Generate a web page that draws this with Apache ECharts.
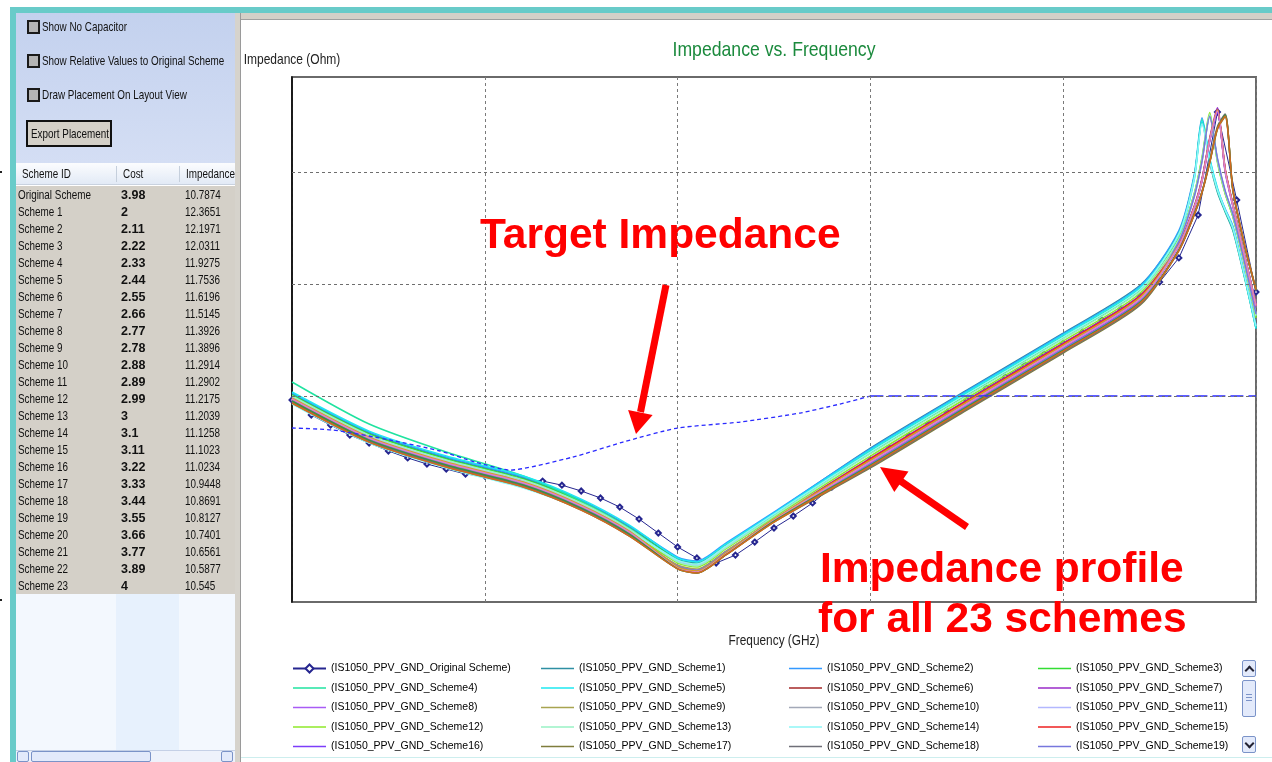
<!DOCTYPE html>
<html>
<head>
<meta charset="utf-8">
<title>Impedance vs. Frequency</title>
<script src="https://cdn.jsdelivr.net/npm/echarts@6.0.0/dist/echarts.min.js"></script>
<style>
  html, body { margin: 0; padding: 0; }
  body { width: 1272px; height: 762px; overflow: hidden; background: #fff; position: relative; }
  #chart { position: absolute; left: 0; top: 0; width: 1272px; height: 762px; z-index: 1; }
  .abs { position: absolute; z-index: 2; }
  .txt { position: absolute; z-index: 3; white-space: nowrap; font-family: "Liberation Sans", Arial, sans-serif; font-size: 13px; color: #111;
         transform: scaleX(0.76); transform-origin: 0 50%; }
  .bold { font-weight: bold; transform: none; font-size: 12.5px; margin-top: 1px; }
  .chk { position: absolute; z-index: 3; width: 9px; height: 10px; border: 2px solid #1a1a1a; background: #b4b4b4; }
  .btn { position: absolute; z-index: 3; border: 1px solid #7b93c8; background: #e3eafb; border-radius: 2px; box-sizing: border-box; }
</style>
</head>
<body>
<div id="chart"></div>

<!-- window frame -->
<div class="abs" style="left:10px;top:7px;width:1262px;height:6px;background:#68cbc9"></div>
<div class="abs" style="left:10px;top:7px;width:6px;height:755px;background:#68cbc9"></div>
<div class="abs" style="left:0px;top:171px;width:2px;height:2px;background:#222"></div>
<div class="abs" style="left:0px;top:599px;width:2px;height:2px;background:#222"></div>

<!-- left panel -->
<div class="abs" style="left:16px;top:13px;width:219px;height:150px;background:linear-gradient(#c3d1ee,#d4def4)"></div>
<div class="chk" style="left:27px;top:20px"></div>
<div class="txt" style="left:42px;top:20px;line-height:14px">Show No Capacitor</div>
<div class="chk" style="left:27px;top:54px"></div>
<div class="txt" style="left:42px;top:54px;line-height:14px">Show Relative Values to Original Scheme</div>
<div class="chk" style="left:27px;top:88px"></div>
<div class="txt" style="left:42px;top:88px;line-height:14px">Draw Placement On Layout View</div>
<div class="abs" style="left:26px;top:120px;width:82px;height:23px;border:2px solid #111;background:#d4d0c8"></div>
<div class="txt" style="left:31px;top:122px;line-height:23px">Export Placement</div>

<div class="abs" style="left:16px;top:163px;width:219px;height:22px;background:linear-gradient(#fbfcfe,#e2eaf6);border-bottom:1px solid #c9d2df;box-sizing:border-box"></div>
<div class="abs" style="left:116px;top:166px;width:1px;height:16px;background:#c5cfdc"></div>
<div class="abs" style="left:179px;top:166px;width:1px;height:16px;background:#c5cfdc"></div>
<div class="txt" style="left:22px;top:167px;line-height:14px">Scheme ID</div>
<div class="txt" style="left:123px;top:167px;line-height:14px">Cost</div>
<div class="txt" style="left:186px;top:167px;line-height:14px">Impedance</div>

<div class="abs" style="left:16px;top:186px;width:219px;height:408px;background:#d4d0c8"></div>
<div id="rows"></div>
<div class="abs" style="left:16px;top:594px;width:219px;height:156px;background:#f3f8fe"></div>
<div class="abs" style="left:116px;top:594px;width:63px;height:156px;background:#e7f1fd"></div>
<div class="abs" style="left:16px;top:750px;width:219px;height:12px;background:#eef2fb;border-top:1px solid #c5d0e6;box-sizing:border-box"></div>
<div class="btn" style="left:17px;top:751px;width:12px;height:11px"></div>
<div class="btn" style="left:31px;top:751px;width:120px;height:11px"></div>
<div class="btn" style="left:221px;top:751px;width:12px;height:11px"></div>

<!-- divider and right panel frame -->
<div class="abs" style="left:235px;top:13px;width:5px;height:749px;background:#d6d3cc;z-index:5"></div>
<div class="abs" style="left:240px;top:13px;width:1px;height:749px;background:#9a9a9a;z-index:5"></div>
<div class="abs" style="left:241px;top:13px;width:1031px;height:6px;background:#d4d0c8"></div>
<div class="abs" style="left:241px;top:19px;width:1031px;height:1px;background:#a0a0a0"></div>
<div class="abs" style="left:241px;top:757px;width:1031px;height:1px;background:#cdeeee"></div>

<!-- legend scroll widget -->
<div class="btn" style="left:1242px;top:660px;width:14px;height:17px"></div>
<div class="abs" style="left:1246px;top:667px;width:5px;height:5px;border-left:2px solid #223;border-top:2px solid #223;transform:rotate(45deg);z-index:4"></div>
<div class="btn" style="left:1242px;top:680px;width:14px;height:37px"></div>
<div class="abs" style="left:1246px;top:694px;width:6px;height:1px;background:#7b93c8;z-index:4"></div>
<div class="abs" style="left:1246px;top:697px;width:6px;height:1px;background:#7b93c8;z-index:4"></div>
<div class="abs" style="left:1246px;top:700px;width:6px;height:1px;background:#7b93c8;z-index:4"></div>
<div class="btn" style="left:1242px;top:736px;width:14px;height:17px"></div>
<div class="abs" style="left:1246px;top:740px;width:5px;height:5px;border-right:2px solid #223;border-bottom:2px solid #223;transform:rotate(45deg);z-index:4"></div>

<script>
// table on the left
const schemeIds = ['Original Scheme', 'Scheme 1', 'Scheme 2', 'Scheme 3', 'Scheme 4', 'Scheme 5', 'Scheme 6', 'Scheme 7',
  'Scheme 8', 'Scheme 9', 'Scheme 10', 'Scheme 11', 'Scheme 12', 'Scheme 13', 'Scheme 14', 'Scheme 15', 'Scheme 16',
  'Scheme 17', 'Scheme 18', 'Scheme 19', 'Scheme 20', 'Scheme 21', 'Scheme 22', 'Scheme 23'];
const schemeCost = [3.98, 2, 2.11, 2.22, 2.33, 2.44, 2.55, 2.66, 2.77, 2.78, 2.88, 2.89, 2.99, 3, 3.1, 3.11, 3.22, 3.33, 3.44, 3.55, 3.66, 3.77, 3.89, 4];
const schemeImpedance = [10.7874, 12.3651, 12.1971, 12.0311, 11.9275, 11.7536, 11.6196, 11.5145, 11.3926, 11.3896, 11.2914,
  11.2902, 11.2175, 11.2039, 11.1258, 11.1023, 11.0234, 10.9448, 10.8691, 10.8127, 10.7401, 10.6561, 10.5877, 10.545];

// frequency sample points (GHz) shared by schemes 1..23
const freqGHz = [1e-5, 2.512e-5, 6.310e-5, 1.585e-4, 3.162e-4, 5.623e-4, 1.000e-3, 1.259e-3, 1.778e-3, 3.162e-3, 0.01,
  0.03162, 0.1, 0.2512, 0.3981, 0.4786, 0.5248, 0.5754, 0.6310, 0.6918, 0.7586, 0.8710, 1];

// impedance (Ohm) per scheme
const zScheme1 = [1.043e-2, 4.67e-3, 2.80e-3, 1.854e-3, 1.154e-3, 6.77e-4, 3.51e-4, 3.23e-4, 4.67e-4, 9.02e-4, 3.43e-3, 1.131e-2, 3.65e-2, 9.79e-2, 0.290, 0.92, 2.80, 1.22, 0.66, 0.44, 0.30, 0.115, 0.040];
const zScheme2 = [1.064e-2, 4.76e-3, 2.85e-3, 1.891e-3, 1.178e-3, 6.90e-4, 3.65e-4, 3.36e-4, 4.87e-4, 9.21e-4, 3.37e-3, 1.109e-2, 3.58e-2, 9.60e-2, 0.300, 0.95, 3.05, 1.30, 0.70, 0.47, 0.33, 0.125, 0.043];
const zScheme3 = [1.021e-2, 4.58e-3, 2.74e-3, 1.816e-3, 1.131e-3, 6.63e-4, 3.43e-4, 3.16e-4, 4.58e-4, 8.84e-4, 3.10e-3, 1.020e-2, 3.29e-2, 8.84e-2, 0.255, 0.64, 1.32, 3.20, 1.25, 0.65, 0.40, 0.152, 0.051];
const zScheme4 = [1.334e-2, 5.62e-3, 3.16e-3, 1.931e-3, 1.154e-3, 6.63e-4, 3.37e-4, 3.10e-4, 4.49e-4, 8.66e-4, 3.23e-3, 1.064e-2, 3.43e-2, 9.21e-2, 0.285, 0.90, 2.95, 1.26, 0.68, 0.45, 0.31, 0.118, 0.041];
const zScheme5 = [1.086e-2, 4.86e-3, 2.91e-3, 1.931e-3, 1.202e-3, 7.05e-4, 3.58e-4, 3.30e-4, 4.77e-4, 9.02e-4, 3.30e-3, 1.086e-2, 3.51e-2, 9.40e-2, 0.275, 0.86, 2.85, 1.32, 0.72, 0.46, 0.32, 0.118, 0.040];
const zScheme6 = [9.40e-3, 4.21e-3, 2.52e-3, 1.672e-3, 1.041e-3, 6.10e-4, 2.98e-4, 2.74e-4, 3.97e-4, 7.97e-4, 2.68e-3, 8.84e-3, 2.85e-2, 7.65e-2, 0.223, 0.487, 0.85, 1.93, 3.45, 1.04, 0.51, 0.182, 0.065];
const zScheme7 = [9.21e-3, 4.13e-3, 2.47e-3, 1.638e-3, 1.020e-3, 5.98e-4, 2.98e-4, 2.74e-4, 3.97e-4, 7.97e-4, 2.795e-3, 9.21e-3, 2.973e-2, 7.975e-2, 0.228, 0.50, 0.88, 2.02, 3.75, 1.08, 0.52, 0.185, 0.066];
const zScheme8 = [9.60e-3, 4.30e-3, 2.575e-3, 1.707e-3, 1.063e-3, 6.23e-4, 3.04e-4, 2.79e-4, 4.05e-4, 7.97e-4, 2.63e-3, 8.66e-3, 2.80e-2, 7.50e-2, 0.218, 0.47, 0.82, 1.88, 3.50, 1.00, 0.49, 0.178, 0.063];
const zScheme9 = [8.84e-3, 3.96e-3, 2.37e-3, 1.572e-3, 9.79e-4, 5.74e-4, 3.10e-4, 2.853e-4, 4.13e-4, 7.81e-4, 2.37e-3, 7.81e-3, 2.52e-2, 6.77e-2, 0.201, 0.422, 0.663, 1.23, 2.47, 3.23, 0.691, 0.223, 0.0884];
const zScheme10 = [9.03e-3, 4.04e-3, 2.42e-3, 1.605e-3, 9.99e-4, 5.86e-4, 3.30e-4, 3.04e-4, 4.40e-4, 8.14e-4, 2.47e-3, 8.14e-3, 2.63e-2, 7.05e-2, 0.240, 0.60, 1.24, 3.10, 1.30, 0.67, 0.42, 0.160, 0.054];
const zScheme11 = [9.80e-3, 4.39e-3, 2.63e-3, 1.743e-3, 1.085e-3, 6.36e-4, 3.37e-4, 3.10e-4, 4.49e-4, 8.31e-4, 2.57e-3, 8.48e-3, 2.74e-2, 7.35e-2, 0.247, 0.62, 1.28, 3.30, 1.28, 0.663, 0.413, 0.157, 0.053];
const zScheme12 = [9.40e-3, 4.21e-3, 2.52e-3, 1.672e-3, 1.041e-3, 6.10e-4, 3.23e-4, 2.97e-4, 4.31e-4, 8.31e-4, 2.91e-3, 9.60e-3, 3.10e-2, 8.31e-2, 0.252, 0.64, 1.35, 3.40, 1.22, 0.64, 0.40, 0.150, 0.050];
const zScheme13 = [1.000e-2, 4.48e-3, 2.68e-3, 1.779e-3, 1.108e-3, 6.49e-4, 3.30e-4, 3.04e-4, 4.40e-4, 8.48e-4, 3.04e-3, 1.000e-2, 3.23e-2, 8.66e-2, 0.250, 0.63, 1.30, 3.25, 1.26, 0.66, 0.41, 0.155, 0.052];
const zScheme14 = [8.49e-3, 3.80e-3, 2.28e-3, 1.509e-3, 9.79e-4, 6.23e-4, 3.43e-4, 3.16e-4, 4.58e-4, 8.84e-4, 3.16e-3, 1.042e-2, 3.36e-2, 9.02e-2, 0.280, 0.88, 2.70, 1.25, 0.69, 0.458, 0.316, 0.120, 0.042];
const zScheme15 = [9.21e-3, 4.13e-3, 2.47e-3, 1.638e-3, 1.020e-3, 5.98e-4, 2.91e-4, 2.68e-4, 3.88e-4, 7.81e-4, 2.74e-3, 9.02e-3, 2.91e-2, 7.81e-2, 0.225, 0.49, 0.86, 1.96, 3.55, 1.06, 0.51, 0.180, 0.064];
const zScheme16 = [9.03e-3, 4.04e-3, 2.42e-3, 1.605e-3, 9.99e-4, 5.86e-4, 2.91e-4, 2.68e-4, 3.88e-4, 7.81e-4, 2.52e-3, 8.31e-3, 2.68e-2, 7.20e-2, 0.220, 0.48, 0.84, 1.90, 3.40, 1.02, 0.50, 0.184, 0.066];
const zScheme17 = [8.66e-3, 3.88e-3, 2.32e-3, 1.540e-3, 9.59e-4, 5.62e-4, 2.86e-4, 2.63e-4, 3.81e-4, 7.50e-4, 2.28e-3, 7.50e-3, 2.42e-2, 6.49e-2, 0.198, 0.415, 0.65, 1.20, 2.40, 3.10, 0.70, 0.228, 0.090];
const zScheme18 = [8.84e-3, 3.96e-3, 2.37e-3, 1.572e-3, 9.79e-4, 5.74e-4, 2.98e-4, 2.74e-4, 3.97e-4, 7.65e-4, 2.32e-3, 7.65e-3, 2.47e-2, 6.63e-2, 0.203, 0.43, 0.67, 1.25, 2.55, 3.30, 0.68, 0.220, 0.087];
const zScheme19 = [9.21e-3, 4.13e-3, 2.47e-3, 1.638e-3, 1.020e-3, 5.98e-4, 3.04e-4, 2.79e-4, 4.05e-4, 7.81e-4, 2.47e-3, 8.14e-3, 2.63e-2, 7.05e-2, 0.240, 0.61, 1.25, 3.15, 1.32, 0.68, 0.42, 0.158, 0.054];
const zScheme20 = [9.60e-3, 4.30e-3, 2.575e-3, 1.707e-3, 1.063e-3, 6.23e-4, 2.98e-4, 2.74e-4, 3.97e-4, 7.97e-4, 2.68e-3, 8.84e-3, 2.85e-2, 7.65e-2, 0.222, 0.485, 0.85, 1.95, 3.60, 1.05, 0.51, 0.182, 0.065];
const zScheme21 = [9.40e-3, 4.21e-3, 2.52e-3, 1.672e-3, 1.041e-3, 6.10e-4, 2.91e-4, 2.68e-4, 3.88e-4, 7.81e-4, 2.57e-3, 8.48e-3, 2.74e-2, 7.35e-2, 0.220, 0.48, 0.84, 1.92, 3.50, 1.03, 0.50, 0.180, 0.064];
const zScheme22 = [9.03e-3, 4.04e-3, 2.42e-3, 1.605e-3, 9.99e-4, 5.86e-4, 2.86e-4, 2.63e-4, 3.81e-4, 7.65e-4, 2.42e-3, 7.98e-3, 2.57e-2, 6.91e-2, 0.201, 0.422, 0.663, 1.23, 2.47, 3.23, 0.691, 0.223, 0.0884];
const zScheme23 = [8.66e-3, 3.88e-3, 2.32e-3, 1.540e-3, 9.59e-4, 5.62e-4, 2.86e-4, 2.63e-4, 3.81e-4, 7.50e-4, 2.37e-3, 7.81e-3, 2.52e-2, 6.77e-2, 0.199, 0.418, 0.66, 1.22, 2.45, 3.15, 0.70, 0.226, 0.089];

// original scheme, sampled every 0.1 decade
const origFreqGHz = [1e-5, 1.259e-5, 1.585e-5, 1.995e-5, 2.512e-5, 3.162e-5, 3.981e-5, 5.012e-5, 6.310e-5, 7.943e-5,
  1e-4, 1.259e-4, 1.585e-4, 1.995e-4, 2.512e-4, 3.162e-4, 3.981e-4, 5.012e-4, 6.310e-4, 7.943e-4,
  1e-3, 1.259e-3, 1.585e-3, 1.995e-3, 2.512e-3, 3.162e-3, 3.981e-3, 5.012e-3, 6.310e-3, 7.943e-3,
  1e-2, 1.259e-2, 1.585e-2, 1.995e-2, 2.512e-2, 3.162e-2, 3.981e-2, 5.012e-2, 6.310e-2, 7.943e-2,
  0.1, 0.1259, 0.1585, 0.1995, 0.2512, 0.3162, 0.3981, 0.5012, 0.6310, 0.7943, 1];
const zOriginal = [9.21e-3, 6.77e-3, 5.50e-3, 4.48e-3, 3.81e-3, 3.23e-3, 2.80e-3, 2.47e-3, 2.23e-3, 2.01e-3,
  1.93e-3, 1.89e-3, 1.78e-3, 1.74e-3, 1.60e-3, 1.42e-3, 1.23e-3, 1.02e-3, 7.97e-4, 5.98e-4,
  4.49e-4, 3.58e-4, 3.23e-4, 3.80e-4, 4.97e-4, 6.63e-4, 8.48e-4, 1.11e-3, 1.54e-3, 2.01e-3,
  2.68e-3, 3.43e-3, 4.39e-3, 5.62e-3, 7.19e-3, 9.21e-3, 1.176e-2, 1.482e-2, 1.889e-2, 2.375e-2,
  2.97e-2, 3.73e-2, 4.77e-2, 5.98e-2, 7.81e-2, 0.104, 0.171, 0.413, 3.43, 0.562, 0.0848];

// target impedance
const targetFreqGHz = [1e-5, 1.63e-5, 3.22e-5, 5.86e-5, 8.9e-5, 1.35e-4, 2.86e-4, 5.21e-4, 1.0e-3, 2.11e-3, 4.32e-3, 6.95e-3, 0.01];
const targetZ = [5.18e-3, 4.97e-3, 4.05e-3, 3.23e-3, 2.575e-3, 2.18e-3, 2.85e-3, 3.88e-3, 5.18e-3, 5.86e-3, 7.05e-3, 8.48e-3, 0.01];
const targetFlatFreqGHz = [0.01, 1];
const targetFlatZ = [0.01, 0.01];

// axis extents and horizontal grid lines (Ohm)
const freqRange = [1e-5, 1];
const zRange = [1.449e-4, 7.05];
const zGridLines = [1, 0.1, 0.01, 0.001];

const schemeZ = [zScheme1, zScheme2, zScheme3, zScheme4, zScheme5, zScheme6, zScheme7, zScheme8, zScheme9, zScheme10,
  zScheme11, zScheme12, zScheme13, zScheme14, zScheme15, zScheme16, zScheme17, zScheme18, zScheme19, zScheme20,
  zScheme21, zScheme22, zScheme23];
const schemeColors = ['#2e8fa3', '#3399ff', '#33dd33', '#20e3a0', '#1ee8f0', '#a52828', '#9a2bc8', '#a95cf5', '#a8a450',
  '#a3a9b8', '#b3b8ff', '#8fe82a', '#98f2c4', '#8ef6f6', '#ee2020', '#7d3dfa', '#7f7d3c', '#6f6f78', '#7777dd',
  '#d9a21b', '#e080cc', '#3f8f3f', '#d2691e'];
const origColor = '#262690';
const targetColor = '#2b2bff';

const SANS = '"Liberation Sans", Arial, sans-serif';

// build the table
let rowsHtml = '';
schemeIds.forEach(function (id, i) {
  const top = 186 + 17 * i;
  rowsHtml += '<div class="txt" style="left:18px;top:' + top + 'px;line-height:17px">' + id + '</div>' +
    '<div class="txt bold" style="left:121px;top:' + top + 'px;line-height:17px">' + schemeCost[i] + '</div>' +
    '<div class="txt" style="left:185px;top:' + top + 'px;line-height:17px">' + schemeImpedance[i] + '</div>';
});
document.getElementById('rows').innerHTML = rowsHtml;

const origName = 'IS1050_PPV_GND_Original Scheme';
const schemeNames = schemeZ.map(function (z, i) { return 'IS1050_PPV_GND_Scheme' + (i + 1); });

let series = [];
// dotted horizontal grid lines
series.push({
  type: 'line', name: 'grid', data: [], silent: true, z: 0,
  markLine: {
    silent: true, symbol: ['none', 'none'], label: { show: false },
    lineStyle: { color: '#6e6e6e', type: [3, 3], width: 1 },
    emphasis: { disabled: true },
    data: zGridLines.map(function (v) { return { yAxis: v }; })
  }
});
// original scheme sits underneath the other schemes
series.push({
  type: 'line', name: origName,
  data: origFreqGHz.map(function (f, j) { return [f, zOriginal[j]]; }),
  symbol: 'emptyDiamond', symbolSize: 5, showSymbol: true,
  lineStyle: { color: origColor, width: 1 },
  itemStyle: { color: origColor, borderWidth: 1 },
  emphasis: { disabled: true }, z: 1
});
schemeZ.forEach(function (z, i) {
  series.push({
    type: 'line', name: schemeNames[i],
    data: freqGHz.map(function (f, j) { return [f, z[j]]; }),
    symbol: 'none', smooth: 0.25,
    lineStyle: { color: schemeColors[i], width: 1.5 },
    itemStyle: { color: schemeColors[i] },
    emphasis: { disabled: true }, z: 2
  });
});
series.push({
  type: 'line', name: 'Target Impedance',
  data: targetFreqGHz.map(function (f, j) { return [f, targetZ[j]]; }),
  symbol: 'none', smooth: 0.2,
  lineStyle: { color: targetColor, width: 1.3, type: [4, 3] },
  emphasis: { disabled: true }, z: 4
});
series.push({
  type: 'line', name: 'Target Impedance',
  data: targetFlatFreqGHz.map(function (f, j) { return [f, targetFlatZ[j]]; }),
  symbol: 'none',
  lineStyle: { color: targetColor, width: 1.5, type: [13, 5] },
  emphasis: { disabled: true }, z: 4
});

// legend: 4 columns x 5 rows, first 20 entries (rest is scrolled away)
const legendNames = [origName].concat(schemeNames.slice(0, 19));
const legendLeft = [292, 541, 789, 1038];
const legends = legendLeft.map(function (left, c) {
  return {
    orient: 'vertical', left: left, top: 663, height: 120, padding: 0,
    itemWidth: 33, itemHeight: 10, itemGap: 8.5,
    selectedMode: false, symbolKeepAspect: true,
    formatter: function (n) { return '(' + n + ')'; },
    textStyle: { fontSize: 10.5, color: '#000', fontFamily: SANS },
    data: legendNames.filter(function (n, k) { return k % 4 === c; }).map(function (n) {
      return n === origName ? { name: n } : { name: n, icon: 'path://M0,0H40V2H0Z' };
    })
  };
});

const chart = echarts.init(document.getElementById('chart'));
chart.setOption({
  animation: false,
  grid: { left: 292, top: 77, width: 964, height: 525, show: true, borderColor: '#6a6a6a', borderWidth: 2, backgroundColor: '#fff' },
  xAxis: {
    type: 'log', logBase: 10, min: freqRange[0], max: freqRange[1],
    axisLine: { show: false }, axisTick: { show: false }, axisLabel: { show: false },
    splitLine: { show: true, lineStyle: { color: '#7a7a7a', type: [3, 3], width: 1 } }
  },
  yAxis: {
    type: 'log', logBase: 10, min: zRange[0], max: zRange[1],
    axisLine: { show: true, lineStyle: { color: '#000', width: 1.5 } },
    axisTick: { show: false }, axisLabel: { show: false }, splitLine: { show: false }
  },
  legend: legends,
  series: series,
  graphic: [
    { type: 'text', x: 774, y: 50, scaleX: 0.84, z: 10, style: { text: 'Impedance vs. Frequency', font: '21px ' + SANS, fill: '#1b8a3d', align: 'center', verticalAlign: 'middle' } },
    { type: 'text', x: 292, y: 60, scaleX: 0.8, z: 10, style: { text: 'Impedance (Ohm)', font: '15px ' + SANS, fill: '#222', align: 'center', verticalAlign: 'middle' } },
    { type: 'text', x: 774, y: 641, scaleX: 0.79, z: 10, style: { text: 'Frequency (GHz)', font: '15px ' + SANS, fill: '#222', align: 'center', verticalAlign: 'middle' } },
    { type: 'text', x: 480, y: 236, z: 20, style: { text: 'Target Impedance', font: 'bold 42.5px ' + SANS, fill: '#ff0000', verticalAlign: 'middle' } },
    { type: 'text', x: 820, y: 570, z: 20, style: { text: 'Impedance profile', font: 'bold 42.5px ' + SANS, fill: '#ff0000', verticalAlign: 'middle' } },
    { type: 'text', x: 818, y: 620, z: 20, style: { text: 'for all 23 schemes', font: 'bold 42.5px ' + SANS, fill: '#ff0000', verticalAlign: 'middle' } },
    { type: 'line', z: 20, shape: { x1: 666, y1: 285, x2: 640.5, y2: 412 }, style: { stroke: '#ff0000', lineWidth: 7 } },
    { type: 'polygon', z: 20, shape: { points: [[636, 434], [652.6, 414.9], [628.1, 409.9]] }, style: { fill: '#ff0000' } },
    { type: 'line', z: 20, shape: { x1: 967, y1: 527, x2: 899, y2: 480 }, style: { stroke: '#ff0000', lineWidth: 7 } },
    { type: 'polygon', z: 20, shape: { points: [[880, 467], [908.5, 471.5], [894.3, 492.1]] }, style: { fill: '#ff0000' } }
  ]
});
</script>
</body>
</html>
